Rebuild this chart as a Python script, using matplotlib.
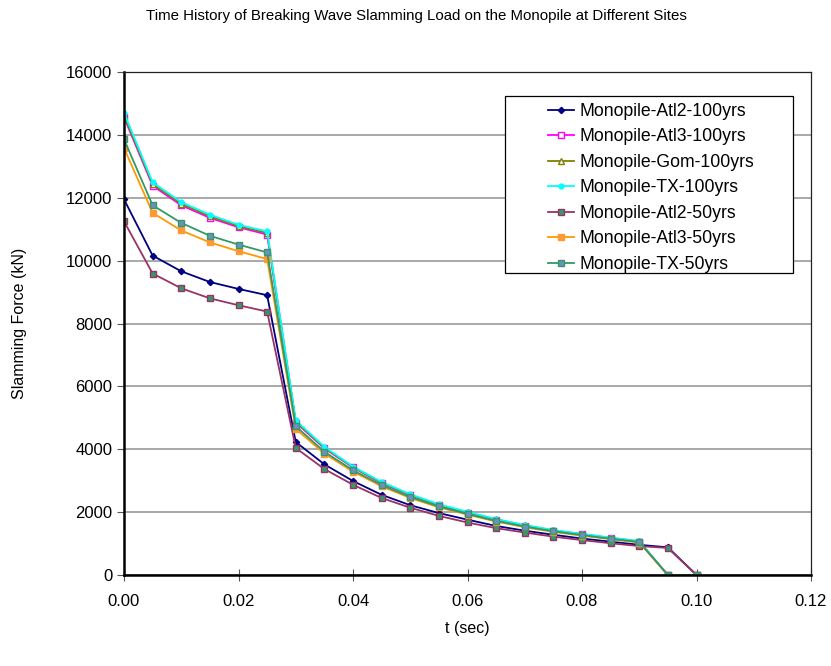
import matplotlib
matplotlib.use('Agg')
import matplotlib.pyplot as plt
from matplotlib.patches import Rectangle
from matplotlib.ticker import MultipleLocator, FormatStrFormatter

plt.rcParams['font.family'] = ['Liberation Sans', 'DejaVu Sans']

# time steps (sec)
t = [0.0, 0.005, 0.01, 0.015, 0.02, 0.025, 0.03, 0.035, 0.04, 0.045, 0.05,
     0.055, 0.06, 0.065, 0.07, 0.075, 0.08, 0.085, 0.09, 0.095, 0.1]

# slamming force (kN)
atl2_100 = [11950, 10160, 9660, 9320, 9100, 8900, 4230, 3520, 2990, 2550, 2220,
            1970, 1760, 1560, 1410, 1280, 1160, 1060, 960, 880, 0]
atl3_100 = [14560, 12380, 11760, 11360, 11060, 10830, 4850, 4030, 3420, 2920, 2540,
            2220, 1980, 1760, 1570, 1410, 1290, 1170, 1060, 0, 0]
gom_100 = [14620, 12430, 11810, 11410, 11100, 10880, 4880, 4050, 3430, 2940, 2550,
           2230, 1990, 1770, 1580, 1420, 1300, 1180, 1070, 0, 0]
tx_100 = [14710, 12490, 11860, 11460, 11140, 10930, 4920, 4080, 3450, 2960, 2570,
          2250, 2010, 1780, 1590, 1430, 1310, 1190, 1080, 0, 0]
atl2_50 = [11250, 9590, 9120, 8800, 8580, 8380, 4040, 3370, 2870, 2450, 2140,
           1880, 1670, 1490, 1350, 1220, 1110, 1010, 920, 860, 0]
atl3_50 = [13580, 11520, 10960, 10580, 10300, 10050, 4650, 3860, 3290, 2820, 2450,
           2150, 1920, 1700, 1520, 1370, 1250, 1140, 1030, 0, 0]
tx_50 = [13860, 11760, 11200, 10790, 10510, 10260, 4730, 3920, 3330, 2860, 2480,
         2180, 1940, 1720, 1540, 1390, 1270, 1150, 1050, 0, 0]

series = [
    ('Monopile-Atl2-100yrs', atl2_100, '#000080', 'D', '#000080', '#000080', 3.2),
    ('Monopile-Atl3-100yrs', atl3_100, '#ff00ff', 's', 'white', '#ff00ff', 4),
    ('Monopile-Gom-100yrs', gom_100, '#808000', '^', 'white', '#808000', 4),
    ('Monopile-TX-100yrs', tx_100, '#00ffff', 'o', '#00ffff', '#00ffff', 3.5),
    ('Monopile-Atl2-50yrs', atl2_50, '#993366', 's', '#339966', '#993366', 4),
    ('Monopile-Atl3-50yrs', atl3_50, '#ff9900', 's', '#ff9933', '#ff9933', 4.5),
    ('Monopile-TX-50yrs', tx_50, '#339966', 's', '#6f8fbf', '#339966', 4),
]

fig = plt.figure(figsize=(8.31, 6.66), dpi=100)
ax = fig.add_axes([124 / 831, 1 - 575 / 666, (811 - 124) / 831, (575 - 72) / 666])

for name, vals, col, mk, mfc, mec, ms in series:
    ax.plot(t, vals, color=col, linewidth=1.3, marker=mk, markersize=ms,
            markerfacecolor=mfc, markeredgecolor=mec, markeredgewidth=1, label=name)

ax.set_xlim(0, 0.12)
ax.set_ylim(0, 16000)
ax.xaxis.set_major_locator(MultipleLocator(0.02))
ax.xaxis.set_major_formatter(FormatStrFormatter('%.2f'))
ax.yaxis.set_major_locator(MultipleLocator(2000))

ax.grid(axis='y', color='#999999', linewidth=1.2)
ax.set_axisbelow(True)
for s in ['top', 'right']:
    ax.spines[s].set_linewidth(0.9)
    ax.spines[s].set_color('#222222')
for s in ['left', 'bottom']:
    ax.spines[s].set_linewidth(1.8)
    ax.spines[s].set_color('black')

ax.tick_params(axis='y', direction='out', length=5, labelsize=12, color='#555555')
ax.tick_params(axis='x', direction='inout', length=8, labelsize=12, color='#555555', pad=10)

ax.set_xlabel('t (sec)', fontsize=11.5, labelpad=8.5)
ax.set_ylabel('Slamming Force (kN)', fontsize=11.5, labelpad=28)
fig.text(416 / 831, 1 - 16 / 666, 'Time History of Breaking Wave Slamming Load on the Monopile at Different Sites',
         ha='center', va='center', fontsize=10.8)

# legend box drawn separately, entries centred inside like the original
box = Rectangle((505 / 831, 1 - 273 / 666), 288 / 831, 177 / 666,
                transform=fig.transFigure, facecolor='white',
                edgecolor='black', linewidth=0.9, zorder=5, clip_on=False)
ax.add_patch(box)
leg = ax.legend(loc='upper left', bbox_to_anchor=(548 / 831, 1 - 103 / 666), bbox_transform=fig.transFigure,
                fontsize=12.7, frameon=False, borderpad=0, labelspacing=0.48,
                handlelength=1.5, handletextpad=0.3, borderaxespad=0)
leg.set_zorder(6)

fig.savefig('out.png', dpi=100)
